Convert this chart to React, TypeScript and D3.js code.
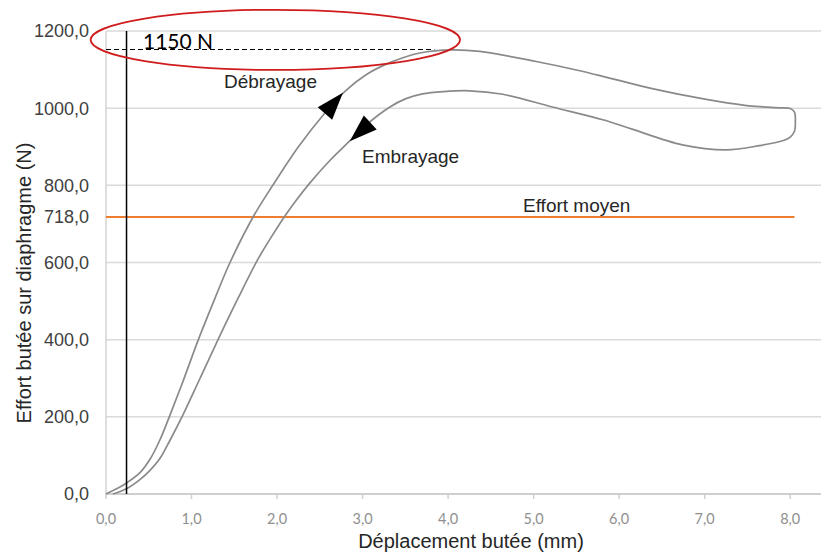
import React from 'react';
import * as d3 from 'd3';

// ---- data ----
const xTicks = [0, 1, 2, 3, 4, 5, 6, 7, 8];
const yGrid = [200, 400, 600, 800, 1000, 1200];
const yTickLabels = [0, 200, 400, 600, 718, 800, 1000, 1200];

// Débrayage (loading curve) – displacement (mm)
const debrayageX = [0, 0.13, 0.25, 0.4, 0.52, 0.63, 0.74, 0.9, 1.08, 1.27, 1.45, 1.72, 1.95, 2.25, 2.55, 2.8, 3.05, 3.32, 3.67, 4.05, 4.37, 5.03, 5.5, 5.89, 6.4, 6.94, 7.52, 7.88, 8.0, 8.05, 8.06, 8.05];
// force (N)
const debrayageY = [0, 14, 30, 56, 92, 140, 200, 292, 400, 505, 600, 718, 800, 900, 985, 1045, 1088, 1118, 1143, 1151, 1147, 1121, 1099, 1078, 1050, 1026, 1006, 1001, 999, 990, 965, 940];

// Embrayage (unloading curve)
const embrayageX = [8.0, 7.93, 7.64, 7.25, 6.74, 6.16, 5.81, 5.22, 4.64, 4.25, 3.95, 3.7, 3.5, 3.32, 3.05, 2.85, 2.62, 2.38, 2.22, 2.09, 1.93, 1.78, 1.55, 1.31, 1.1, 0.9, 0.75, 0.63, 0.5, 0.4, 0.25, 0.08];
const embrayageY = [925, 917, 903, 892, 905, 945, 970, 1003, 1036, 1045, 1043, 1037, 1024, 1003, 958, 915, 865, 805, 760, 720, 665, 610, 510, 400, 300, 205, 140, 92, 58, 38, 15, 0];

const effortMoyen = 718;
const effortMoyenEndX = 8.05;
const peakForce = 1152;
const peakLineEndX = 3.84;
const markerX = 0.24;

// arrows: tip and base (data coordinates)
const arrowTipX = [2.77, 2.85];
const arrowTipY = [1040, 914];
const arrowBaseX = [2.56, 3.09];
const arrowBaseY = [986, 963];

// annotation ellipse (data coordinates)
const ellipseCX = 1.98;
const ellipseCY = 1177;
const ellipseRX = 2.16;
const ellipseRY = 78;

const labels = {
  debrayage: 'Débrayage',
  embrayage: 'Embrayage',
  moyen: 'Effort moyen',
  peak: '1150 N',
  xTitle: 'Déplacement butée (mm)',
  yTitle: 'Effort butée sur diaphragme (N)',
};

const W = 821;
const H = 556;

export default function App() {
  const x = d3.scaleLinear().domain([0, 8.36]).range([106, 821]);
  const y = d3.scaleLinear().domain([0, 1200]).range([494, 31]);
  const fmt = (v: number) => d3.format('.1f')(v).replace('.', ',');

  const pts: [number, number][] = [
    ...debrayageX.map((v, i) => [v, debrayageY[i]] as [number, number]),
    ...embrayageX.map((v, i) => [v, embrayageY[i]] as [number, number]),
  ];
  const line = d3
    .line<[number, number]>()
    .x((d) => x(d[0]))
    .y((d) => y(d[1]))
    .curve(d3.curveCatmullRom.alpha(0.5));

  const arrows = arrowTipX.map((tx, i) => {
    const px = x(tx), py = y(arrowTipY[i]);
    const bx = x(arrowBaseX[i]), by = y(arrowBaseY[i]);
    const len = Math.hypot(px - bx, py - by);
    const ux = (px - bx) / len, uy = (py - by) / len;
    const hw = 9.5;
    return `${px},${py} ${bx - uy * hw},${by + ux * hw} ${bx + uy * hw},${by - ux * hw}`;
  });

  const sans = '"Liberation Sans", Arial, sans-serif';

  return (
    <svg width={W} height={H} style={{ position: 'absolute', left: 0, top: 0, background: '#fff' }}>
      <rect x={0} y={0} width={W} height={H} fill="#fff" />
      {/* gridlines */}
      {yGrid.map((v) => (
        <line key={v} x1={x(0)} x2={821} y1={y(v)} y2={y(v)} stroke="#dadada" strokeWidth={1.5} />
      ))}
      {/* y axis line */}
      <line x1={x(0)} x2={x(0)} y1={y(1200)} y2={y(0)} stroke="#d4d4d4" strokeWidth={1.5} />
      {/* x axis */}
      <line x1={x(0)} x2={821} y1={y(0)} y2={y(0)} stroke="#cfcfcf" strokeWidth={2} />
      {xTicks.map((t) => (
        <g key={t}>
          <line x1={x(t)} x2={x(t)} y1={y(0)} y2={y(0) + 5} stroke="#cfcfcf" strokeWidth={1.5} />
          <text x={x(t)} y={524} textAnchor="middle" fontFamily="Lato, sans-serif" fontSize={14.5} fill="#8f8f8f">
            {fmt(t)}
          </text>
        </g>
      ))}
      {/* y tick labels */}
      {yTickLabels.map((v) => (
        <text key={v} x={89} y={y(v)} dy="0.36em" textAnchor="end" fontFamily={sans} fontSize={18} fill="#404040">
          {fmt(v)}
        </text>
      ))}
      {/* effort moyen */}
      <line x1={x(0)} x2={x(effortMoyenEndX)} y1={y(effortMoyen)} y2={y(effortMoyen)} stroke="#ED7D31" strokeWidth={2} />
      <text x={523} y={212} fontFamily={sans} fontSize={19} fill="#262626">{labels.moyen}</text>
      {/* hysteresis loop */}
      <path d={line(pts) || ''} fill="none" stroke="#8a8a8a" strokeWidth={1.7} />
      {/* arrows */}
      {arrows.map((p, i) => (
        <polygon key={i} points={p} fill="#000" />
      ))}
      <text x={224} y={88} fontFamily={sans} fontSize={19} fill="#262626">{labels.debrayage}</text>
      <text x={362} y={163} fontFamily={sans} fontSize={19} fill="#262626">{labels.embrayage}</text>
      {/* marker line */}
      <line x1={x(markerX)} x2={x(markerX)} y1={y(1200)} y2={y(0)} stroke="#000" strokeWidth={1.5} />
      {/* peak dashed line */}
      <line x1={x(0)} x2={x(peakLineEndX)} y1={y(peakForce)} y2={y(peakForce)} stroke="#000" strokeWidth={1} strokeDasharray="5,3" />
      <text x={143} y={49} fontFamily="Lato, sans-serif" fontSize={21} fill="#000">{labels.peak}</text>
      <ellipse
        cx={x(ellipseCX)}
        cy={y(ellipseCY)}
        rx={x(ellipseRX) - x(0)}
        ry={y(0) - y(ellipseRY)}
        fill="none"
        stroke="#d01c1c"
        strokeWidth={1.8}
      />
      {/* axis titles */}
      <text x={471} y={548} textAnchor="middle" fontFamily={sans} fontSize={20} fill="#262626">{labels.xTitle}</text>
      <text transform="translate(31,283) rotate(-90)" textAnchor="middle" fontFamily={sans} fontSize={20} fill="#262626">
        {labels.yTitle}
      </text>
    </svg>
  );
}
